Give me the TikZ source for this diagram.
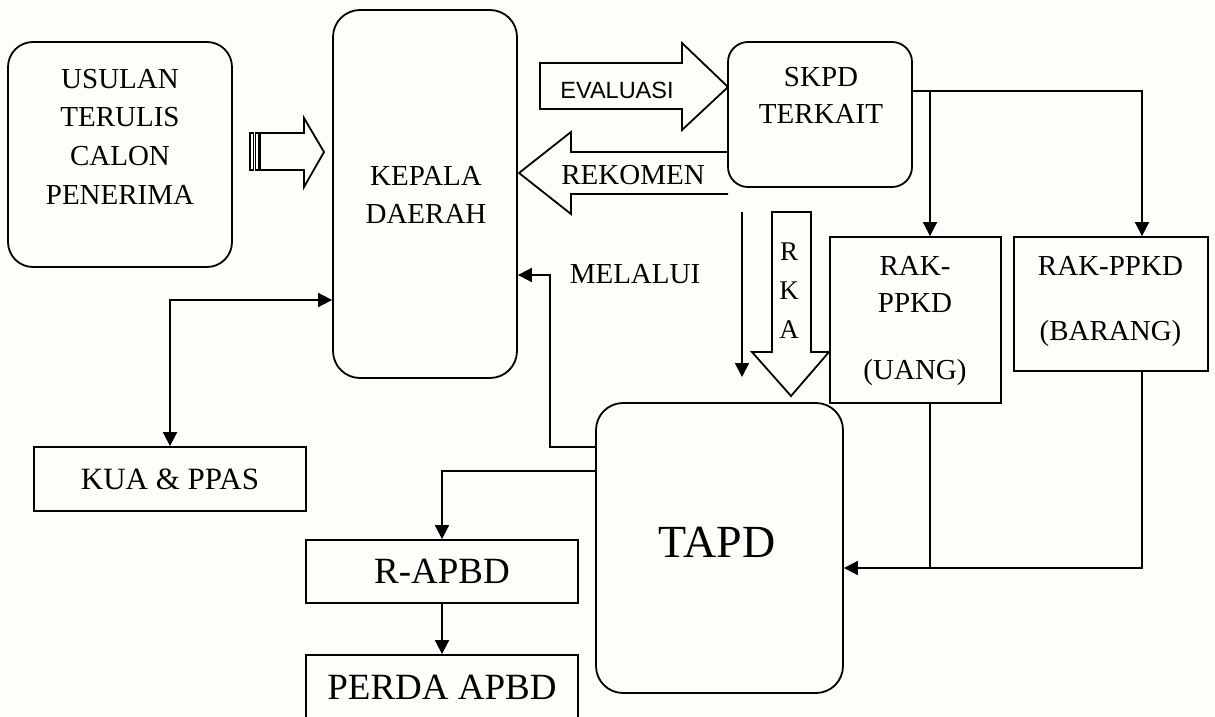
\documentclass[tikz,border=0pt]{standalone}
\usepackage{fontspec}
\setmainfont{Liberation Serif}
\newfontfamily\sansf{Liberation Sans}
\usetikzlibrary{arrows.meta,calc}
\definecolor{bg}{RGB}{253,253,249}
\begin{document}
\begin{tikzpicture}[x=1pt,y=-1pt,
  line width=1.8pt,
  box/.style={draw, line width=1.8pt, inner sep=0pt},
  rbox/.style={box, rounded corners=#1},
  txt/.style={inner sep=0pt, align=center, font=\fontsize{29}{38}\selectfont},
  blk/.style={draw, fill=bg, line width=1.8pt, line join=miter},
  arr/.style={-{Triangle[length=14pt,width=14pt]}},
  darr/.style={{Triangle[length=14pt,width=14pt]}-{Triangle[length=14pt,width=14pt]}}
]
\fill[bg] (0,0) rectangle (1215,717);
\useasboundingbox (0,0) rectangle (1215,717);

% block arrows
\draw[blk] (260,133) -- (304,133) -- (304,118) -- (324,152) -- (304,187) -- (304,170) -- (260,170) -- cycle;
\draw[line width=1.4pt] (250,133) rectangle (253.5,170);
\draw[line width=1.4pt] (255.5,133) rectangle (259,170);
\draw[blk] (540,63) -- (682,63) -- (682,43) -- (728,87) -- (682,130) -- (682,109) -- (540,109) -- cycle;
\draw[blk] (728,152) -- (571,152) -- (571,132) -- (519,173) -- (571,214) -- (571,194) -- (728,194);
\draw[blk] (772,212) -- (811,212) -- (811,352) -- (829,352) -- (791,396) -- (752,352) -- (772,352) -- cycle;

% boxes
\node[rbox=25pt, minimum width=224pt, minimum height=225pt] (usulan) at (120,154.5) {};
\node[rbox=27pt, minimum width=184pt, minimum height=368pt] (kepala) at (425,194) {};
\node[rbox=20pt, fill=bg, minimum width=184pt, minimum height=145pt] (skpd) at (820,114.5) {};
\node[box, minimum width=171pt, minimum height=166pt] (rakuang) at (915.5,320) {};
\node[box, minimum width=194pt, minimum height=134pt] (rakbarang) at (1111,304) {};
\node[rbox=27pt, minimum width=247pt, minimum height=290pt] (tapd) at (719.5,548) {};
\node[box, minimum width=272pt, minimum height=64pt, font=\fontsize{31}{36}\selectfont] (kua) at (170,479) {KUA \& PPAS};
\node[box, minimum width=272pt, minimum height=63pt, font=\fontsize{37}{42}\selectfont] (rapbd) at (442,571.5) {R-APBD};
\node[box, minimum width=272pt, minimum height=64pt, font=\fontsize{37}{42}\selectfont] (perda) at (442,687) {PERDA APBD};

% texts
\node[txt, anchor=north, font=\fontsize{29}{38.8}\selectfont] (usulantxt) at (120,68) {USULAN\\TERULIS\\CALON\\PENERIMA};
\node[txt, anchor=north] (kepalatxt) at (426,165) {KEPALA\\DAERAH};
\node[txt, anchor=north, font=\fontsize{29}{37}\selectfont] (skpdtxt) at (821,66) {SKPD\\TERKAIT};
\node[txt, anchor=north, font=\fontsize{29}{37}\selectfont] (uangtxt) at (915,255) {RAK-\\PPKD\\[30pt](UANG)};
\node[txt, anchor=north, font=\fontsize{29}{37}\selectfont] (barangtxt) at (1110.5,255) {RAK-PPKD\\[28pt](BARANG)};
\node[inner sep=0pt, anchor=base, font=\fontsize{46}{50}\selectfont] (tapdtxt) at (717,557) {TAPD};
\node[inner sep=0pt, anchor=base, font=\fontsize{29}{34}\selectfont] (melalui) at (635,283) {MELALUI};
\node[inner sep=0pt, anchor=base, font=\fontsize{29}{34}\selectfont] (rekomen) at (633,184) {REKOMEN};
\node[inner sep=0pt, anchor=base, font=\sansf\fontsize{23.5}{28}\selectfont] (evaluasi) at (617,98) {EVALUASI};
\node[txt, anchor=north, font=\fontsize{27}{39}\selectfont] (rka) at (789,242) {R\\K\\A};

% connectors
\coordinate (j1) at (930,91);
\coordinate (j2) at (1142,91);
\coordinate (j3) at (930,568);
\coordinate (j4) at (1142,568);
\coordinate (ts) at (742,212);
\coordinate (te) at (742,377);
\coordinate (m1) at (550,275);
\coordinate (k1) at (170,300);

\draw[arr] (skpd.east |- j1) -- (j2) -- (j2 |- rakbarang.north);
\draw[arr] (j1) -- (j1 |- rakuang.north);
\draw (j1 |- rakuang.south) -- (j3);
\draw[arr] (j2 |- rakbarang.south) -- (j4) -- (tapd.east |- j4);
\draw[arr] (ts) -- (te);
\draw[arr] (tapd.west |- 0,447) -| (m1) -- (kepala.east |- m1);
\draw[darr] (kua.north) -- (k1) -- (kepala.west |- k1);
\draw[arr] (tapd.west |- 0,471) -| (rapbd.north);
\draw[arr] (rapbd.south) -- (perda.north);
\end{tikzpicture}
\end{document}
